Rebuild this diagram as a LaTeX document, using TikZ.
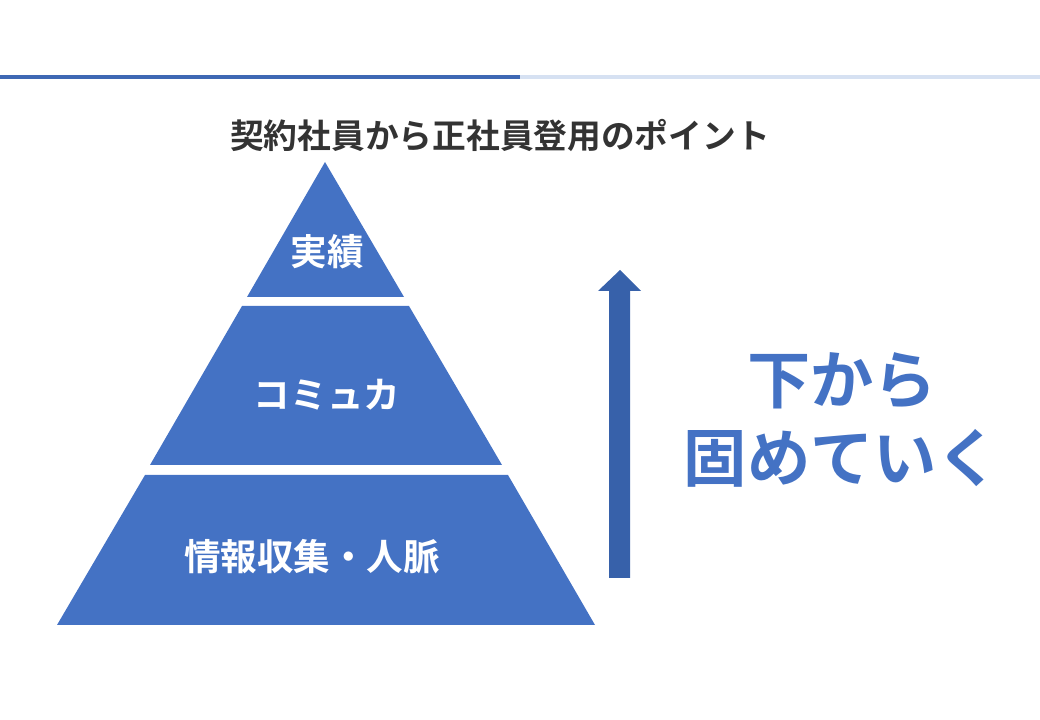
\documentclass[tikz,border=0pt]{standalone}
\usepackage{fontspec}
\newfontfamily\jp{Noto Sans CJK JP}[BoldFont={Noto Sans CJK JP Bold}]
\usepackage{tikz}
\usetikzlibrary{positioning}
\definecolor{tierblue}{HTML}{4472C4}
\definecolor{arrowblue}{HTML}{3761AA}
\definecolor{lineblue}{HTML}{3E68B4}
\definecolor{lightline}{HTML}{D6E1F2}
\definecolor{titlegray}{HTML}{333333}
\begin{document}
\begin{tikzpicture}[x=0.025cm,y=-0.025cm,
    tier/.style={fill=tierblue, draw=none},
    tier-label/.style={text=white, font=\jp\bfseries\fontsize{26}{30}\selectfont},
    side-label/.style={text=tierblue, font=\jp\bfseries\fontsize{45}{56}\selectfont, align=center}
  ]
  \useasboundingbox (0,0) rectangle (1040,720);
  % top rule
  \fill[lineblue] (0,75) rectangle (520,79);
  \fill[lightline] (520,75) rectangle (1040,79);
  \node[text=titlegray, font=\jp\bfseries\fontsize{24}{28}\selectfont] (title) at (500,135) {契約社員から正社員登用のポイント};
  % pyramid
  \fill[tier] (325,162) -- (404,297) -- (247,297) -- cycle;
  \fill[tier] (242,306) -- (409,306) -- (502,465) -- (150,465) -- cycle;
  \fill[tier] (145,475) -- (508,475) -- (595,625) -- (57,625) -- cycle;
  \node[tier-label] (top) at (327,252) {実績};
  \node[tier-label] (mid) at (327,395) {コミュカ};
  \node[tier-label] (base) at (312,557) {情報収集・人脈};
  % arrow
  \fill[arrowblue] (609,578) -- (630,578) -- (630,291) -- (641,291) -- (620,270) -- (598,291) -- (609,291) -- cycle;
  \node[side-label] (steps) at (842,420) {下から\\固めていく};
\end{tikzpicture}
\end{document}
